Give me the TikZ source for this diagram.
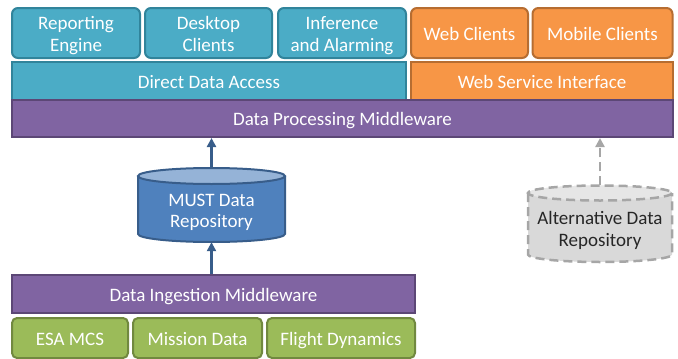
\documentclass[tikz,border=0pt]{standalone}
\usepackage{fontspec}
\setmainfont{Carlito}
\usetikzlibrary{arrows.meta}

\definecolor{tealfill}{HTML}{4BACC6}
\definecolor{tealline}{HTML}{31849B}
\definecolor{orangefill}{HTML}{F79646}
\definecolor{orangeline}{HTML}{B66D31}
\definecolor{purplefill}{HTML}{8064A2}
\definecolor{purpleline}{HTML}{5C4776}
\definecolor{greenfill}{HTML}{9BBB59}
\definecolor{greenline}{HTML}{71893F}
\definecolor{dbfill}{HTML}{4F81BD}
\definecolor{dbtop}{HTML}{95B3D7}
\definecolor{dbline}{HTML}{385D8A}
\definecolor{altfill}{HTML}{D9D9D9}
\definecolor{alttop}{HTML}{E6E6E6}
\definecolor{altline}{HTML}{A6A6A6}
\definecolor{alttext}{HTML}{262626}

% centred block of text lines, lowered without changing its size
\newcommand\txtlines[2][-3pt]{%
  \raisebox{#1}[\height][\depth]{\begin{tabular}{@{}c@{}}#2\end{tabular}}}

\tikzset{
  lbl/.style={font=\fontsize{19}{21.5}\selectfont, text=white, inner sep=0pt},
  blockbox/.style={lbl, draw, line width=2pt, minimum width=#1},
  appbox/.style={blockbox=#1, rounded corners=6pt, minimum height=50pt},
  layerbox/.style={blockbox=#1, minimum height=38pt},
  tealbox/.style={fill=tealfill, draw=tealline},
  orangebox/.style={fill=orangefill, draw=orangeline},
  purplebox/.style={fill=purplefill, draw=purpleline},
  greenbox/.style={fill=greenfill, draw=greenline},
  flow/.style={draw=dbline, line width=2.5pt, -{Triangle[length=9pt,width=9pt]}},
  altdash/.style={draw=altline, line width=2.5pt, dash pattern=on 9pt off 5pt},
  altflow/.style={altdash, -{Triangle[length=9pt,width=9pt]}},
}

\begin{document}
\begin{tikzpicture}[x=1pt,y=-1pt]
\useasboundingbox (0,0) rectangle (678,359);

% client applications
\node[appbox=128pt, tealbox] (rep) at (76,33) {\txtlines{Reporting\\Engine}};
\node[appbox=127pt, tealbox] (desk) at (208.5,33) {\txtlines{Desktop\\Clients}};
\node[appbox=128pt, tealbox] (inf) at (342,33) {\txtlines{Inference\\and Alarming}};
\node[appbox=117pt, orangebox] (web) at (469.5,33) {\txtlines{Web Clients}};
\node[appbox=140pt, orangebox] (mob) at (602.5,33) {\txtlines{Mobile Clients}};

% access layers
\node[layerbox=394pt, tealbox] (dda) at (209,81) {\txtlines{Direct Data Access}};
\node[layerbox=262pt, orangebox] (wsi) at (542,81) {\txtlines{Web Service Interface}};
\node[layerbox=661pt, minimum height=37pt, purplebox] (dpm) at (342.5,118.5)
  {\txtlines{Data Processing Middleware}};

% MUST data repository (cylinder)
\fill[dbfill] (138,176) -- (138,234) arc[start angle=180,end angle=0,x radius=73.5,y radius=8]
  -- (285,176) arc[start angle=0,end angle=-180,x radius=73.5,y radius=8] -- cycle;
\filldraw[fill=dbtop, draw=dbline, line width=2pt] (211.5,176) ellipse[x radius=73.5,y radius=8];
\draw[dbline, line width=2pt] (138,176) -- (138,234)
  arc[start angle=180,end angle=0,x radius=73.5,y radius=8] -- (285,176);
\node[lbl, minimum width=147pt, minimum height=74pt] (must) at (211.5,205)
  {\txtlines[-7.8pt]{MUST Data\\Repository}};

% alternative data repository (dashed cylinder)
\fill[altfill] (528,193) -- (528,254.5) arc[start angle=180,end angle=0,x radius=72,y radius=7.5]
  -- (672,193) arc[start angle=0,end angle=-180,x radius=72,y radius=7.5] -- cycle;
\filldraw[fill=alttop, altdash] (600,193) ellipse[x radius=72,y radius=7.5];
\draw[altdash] (528,193) -- (528,254.5)
  arc[start angle=180,end angle=0,x radius=72,y radius=7.5] -- (672,193);
\node[lbl, text=alttext, minimum width=144pt, minimum height=76.5pt] (alt) at (600,223.75)
  {\txtlines[-7.5pt]{Alternative Data\\Repository}};

% ingestion layer and data sources
\node[layerbox=403pt, purplebox] (dim) at (213.5,294) {\txtlines{Data Ingestion Middleware}};
\node[appbox=116pt, minimum height=40pt, rounded corners=5pt, greenbox] (esa) at (70,338)
  {\txtlines{ESA MCS}};
\node[appbox=129pt, minimum height=40pt, rounded corners=5pt, greenbox] (mis) at (197.5,338)
  {\txtlines{Mission Data}};
\node[appbox=148pt, minimum height=40pt, rounded corners=5pt, greenbox] (fd) at (341,338)
  {\txtlines{Flight Dynamics}};

% data flow
\draw[flow] (must.north) -- (must.north |- dpm.south);
\draw[flow] (dim.north -| must.south) -- (must.south);
\draw[altflow] (alt.north) -- (alt.north |- dpm.south);
\end{tikzpicture}
\end{document}
